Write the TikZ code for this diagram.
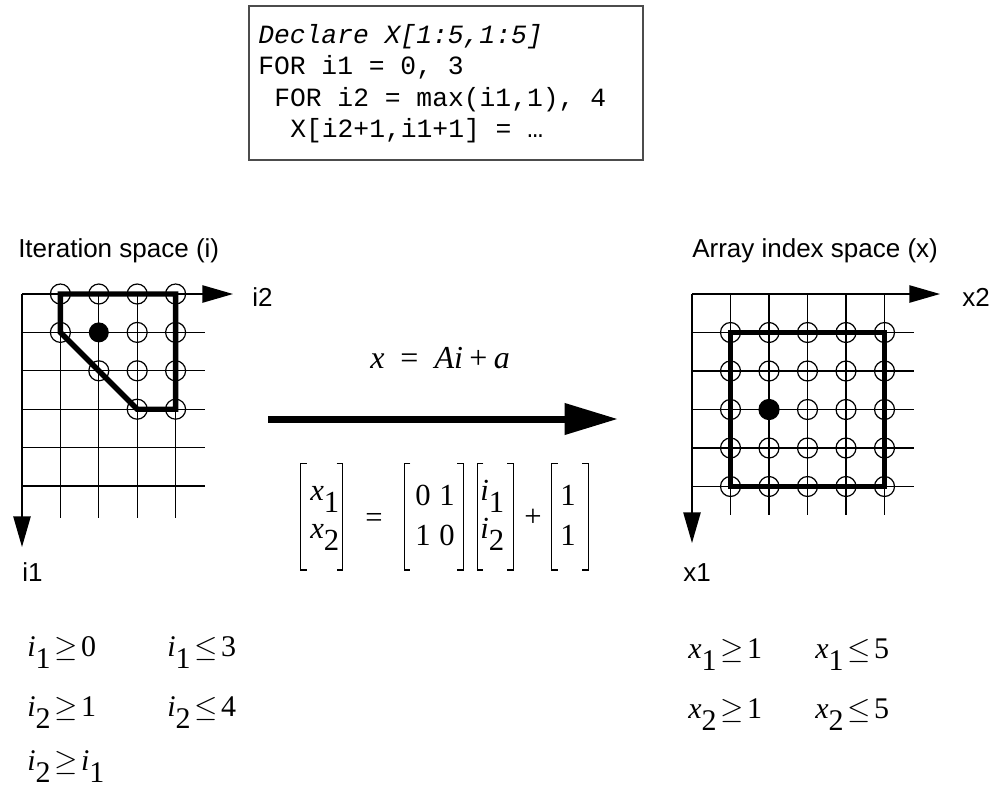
\RequirePackage{fix-cm}
\documentclass[tikz,border=0pt]{standalone}
\usepackage{fontspec}
\setmainfont{Liberation Sans}
\newfontfamily\tms{Liberation Serif}
\newfontfamily\cde{Liberation Mono}
\usetikzlibrary{arrows.meta}
\newcommand\sbs[1]{\raisebox{-0.4em}{#1}}
\newcommand\geqs{\hspace{0.12em}$\geq$\hspace{0.12em}}
\newcommand\leqs{\hspace{0.12em}$\leq$\hspace{0.12em}}
\begin{document}
\begin{tikzpicture}[x=0.75pt,y=-0.75pt,
  lbl/.style={font=\fontsize{19.5pt}{23pt}\selectfont, inner sep=0, anchor=base west},
  codeline/.style={font=\cde\fontsize{19.75pt}{23.5pt}\selectfont, inner sep=0, anchor=base west},
  eq/.style={font=\tms\fontsize{24pt}{28pt}\selectfont, inner sep=0, anchor=base west},
  cons/.style={font=\tms\fontsize{22.5pt}{26pt}\selectfont, inner sep=0, anchor=base west},
  mat/.style={font=\tms\fontsize{23pt}{27pt}\selectfont, inner sep=0, anchor=base},
  matw/.style={font=\tms\fontsize{23pt}{27pt}\selectfont, inner sep=0, anchor=base west},
  gridline/.style={line width=1pt},
  axis/.style={line width=1.1pt, -{Triangle[length=23pt,width=13pt]}},
  region/.style={line width=4pt},
  opt/.style={circle, draw, line width=0.9pt, minimum size=15pt, inner sep=0},
  fpt/.style={circle, fill=black, minimum size=15pt, inner sep=0},
  bigarrow/.style={line width=5.25pt, -{Triangle[length=40pt,width=22.5pt]}},
  bracket/.style={line width=0.9pt}]
\useasboundingbox (0,0) rectangle (995,793);

% code box
\draw[line width=1pt, black!70] (249,6) rectangle (643,160);
\node[codeline] (c1) at (258,43) {\itshape Declare X[1:5,1:5]};
\node[codeline] (c2) at (258,74) {FOR i1 = 0, 3};
\node[codeline] (c3) at (274,106) {FOR i2 = max(i1,1), 4};
\node[codeline] (c4) at (290,137) {X[i2+1,i1+1] = …};

% titles
\node[lbl] (tl) at (18,257) {Iteration space (i)};
\node[lbl] (tr) at (692,257) {Array index space (x)};

% ---------- left grid ----------
\foreach \k in {1,...,4} \draw[gridline] ({22+38.4*\k},294) -- ({22+38.4*\k},518);
\foreach \k in {1,...,5} \draw[gridline] (22,{294+38.4*\k}) -- (205,{294+38.4*\k});
\coordinate (io) at (22,294);
\coordinate (i2e) at (233,294);
\coordinate (i1e) at (22,547);
\draw[axis] (io) -- (i2e);
\draw[axis] (io) -- (i1e);
\node[lbl] (li2) at (252,306) {i2};
\node[lbl] (li1) at (22,581) {i1};
\draw[region] (60.4,294) -- (175.6,294) -- (175.6,409.2) -- (137.2,409.2) -- (60.4,332.4) -- cycle;
\foreach \c/\r in {1/0,2/0,3/0,4/0,1/1,3/1,4/1,2/2,3/2,4/2,3/3,4/3}
  \node[opt] (L\c\r) at ({22+38.4*\c},{294+38.4*\r}) {};
\node[fpt] (L21) at ({22+38.4*2},{294+38.4*1}) {};

% ---------- right grid ----------
\foreach \k in {1,...,5} \draw[gridline] ({692+38.5*\k},294) -- ({692+38.5*\k},515);
\foreach \k in {1,...,5} \draw[gridline] (692,{294+38.5*\k}) -- (914,{294+38.5*\k});
\coordinate (xo) at (692,294);
\coordinate (x2e) at (940,294);
\coordinate (x1e) at (692,543);
\draw[axis] (xo) -- (x2e);
\draw[axis] (xo) -- (x1e);
\node[lbl] (lx2) at (962,306) {x2};
\node[lbl] (lx1) at (683,581) {x1};
\draw[region] ({692+38.5},{294+38.5}) rectangle ({692+38.5*5},{294+38.5*5});
\foreach \c in {1,...,5}
  \foreach \r in {1,...,5}
    \node[opt] (R\c\r) at ({692+38.5*\c},{294+38.5*\r}) {};
\node[fpt] (R23) at ({692+38.5*2},{294+38.5*3}) {};

% ---------- mapping ----------
\node[eq] (map) at (370,368) {\itshape x\hspace{0.5em}\upshape=\hspace{0.5em}\itshape Ai\hspace{0.2em}\upshape+\hspace{0.2em}\itshape a};
\coordinate (as) at (268,419);
\coordinate (ae) at (618,419);
\draw[bigarrow] (as) -- (ae);

\foreach \l/\r in {300.7/342.7, 404.3/463.3, 477.3/513.3, 551.7/588.3} {
  \draw[bracket] ({\l+6},463.3) -- (\l,463.3) -- (\l,570) -- ({\l+6},570);
  \draw[bracket] ({\r-6},463.3) -- (\r,463.3) -- (\r,570) -- ({\r-6},570);
}
\node[matw] (vx1) at (310,500) {\itshape x\upshape\sbs{1}};
\node[matw] (vx2) at (310,538) {\itshape x\upshape\sbs{2}};
\node[mat] (eqs) at (374,527) {=};
\node[mat] (a11) at (423,505) {0};
\node[mat] (a12) at (447,505) {1};
\node[mat] (a21) at (423,545) {1};
\node[mat] (a22) at (447,545) {0};
\node[matw] (vi1) at (480,500) {\itshape i\upshape\sbs{1}};
\node[matw] (vi2) at (480,538) {\itshape i\upshape\sbs{2}};
\node[mat] (pls) at (533,526) {+};
\node[mat] (b1) at (568,505) {1};
\node[mat] (b2) at (568,545) {1};

% ---------- constraints ----------
\node[cons] (k1) at (27,656) {\itshape i\upshape\sbs{1}\geqs 0};
\node[cons] (k2) at (167,656) {\itshape i\upshape\sbs{1}\leqs 3};
\node[cons] (k3) at (27,716) {\itshape i\upshape\sbs{2}\geqs 1};
\node[cons] (k4) at (167,716) {\itshape i\upshape\sbs{2}\leqs 4};
\node[cons] (k5) at (27,770) {\itshape i\upshape\sbs{2}\geqs\itshape i\upshape\sbs{1}};
\node[cons] (k6) at (688,658) {\itshape x\upshape\sbs{1}\geqs 1};
\node[cons] (k7) at (815,658) {\itshape x\upshape\sbs{1}\leqs 5};
\node[cons] (k8) at (688,718) {\itshape x\upshape\sbs{2}\geqs 1};
\node[cons] (k9) at (815,718) {\itshape x\upshape\sbs{2}\leqs 5};
\end{tikzpicture}
\end{document}
